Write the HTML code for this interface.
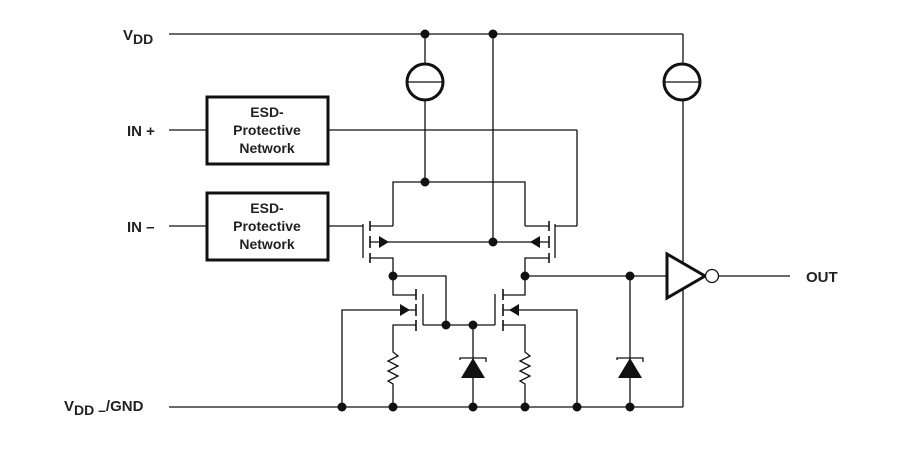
<!DOCTYPE html>
<html><head><meta charset="utf-8"><style>
html,body{margin:0;padding:0;background:#fff;}
svg{display:block;}
text{font-family:"Liberation Sans",Arial,sans-serif;font-weight:bold;fill:#222;}
</style></head><body>
<svg width="919" height="450" viewBox="0 0 919 450" xmlns="http://www.w3.org/2000/svg">
<g stroke="#111" stroke-width="1.3" fill="none">
<!-- rails -->
<line x1="169" y1="34" x2="683" y2="34"/>
<line x1="169" y1="407" x2="683" y2="407"/>
<line x1="683" y1="34" x2="683" y2="64"/>
<line x1="683" y1="100" x2="683" y2="407"/>
<!-- inputs -->
<line x1="169" y1="130" x2="206" y2="130"/>
<line x1="328" y1="130" x2="577" y2="130"/>
<line x1="577" y1="130" x2="577" y2="226"/>
<line x1="577" y1="226" x2="555" y2="226"/>
<line x1="169" y1="226" x2="206" y2="226"/>
<line x1="328" y1="226" x2="363" y2="226"/>
<!-- current source 1 -->
<line x1="425" y1="34" x2="425" y2="64"/>
<line x1="425" y1="100" x2="425" y2="182"/>
<line x1="407" y1="82" x2="443" y2="82"/>
<!-- current source 2 -->
<line x1="664" y1="82" x2="700" y2="82"/>
<!-- top diff pair -->
<polyline points="393,226 393,182 525,182 525,226"/>
<line x1="493" y1="34" x2="493" y2="242"/>
<line x1="370" y1="242" x2="549" y2="242"/>
<line x1="363" y1="224" x2="363" y2="258"/>
<line x1="555" y1="224" x2="555" y2="258"/>
<line x1="370" y1="226" x2="393" y2="226"/>
<line x1="549" y1="226" x2="525" y2="226"/>
<polyline points="370,258 393,258 393,295 416,295"/>
<polyline points="549,258 525,258 525,295 503,295"/>
<polyline points="393,276 446,276 446,325"/>
<line x1="525" y1="276" x2="667" y2="276"/>
<line x1="630" y1="276" x2="630" y2="407"/>
<!-- lower mirror -->
<line x1="423" y1="294" x2="423" y2="325"/>
<line x1="495" y1="294" x2="495" y2="325"/>
<line x1="423" y1="325" x2="495" y2="325"/>
<polyline points="342,407 342,310 416,310"/>
<polyline points="577,407 577,310 503,310"/>
<polyline points="416,325 393,325 393,350"/>
<polyline points="503,325 525,325 525,350"/>
<polyline points="393,350 393,352 398,356 388,361 398,366 388,371 398,376 388,381 393,384 393,407"/>
<polyline points="525,350 525,352 530,356 520,361 530,366 520,371 530,376 520,381 525,384 525,407"/>
<line x1="473" y1="325" x2="473" y2="407"/>
<!-- out -->
<line x1="719" y1="276" x2="790" y2="276"/>
</g>
<!-- channel bars -->
<g stroke="#111" stroke-width="1.6">
<line x1="370" y1="221" x2="370" y2="231"/><line x1="370" y1="236" x2="370" y2="248"/><line x1="370" y1="253" x2="370" y2="263"/>
<line x1="549" y1="221" x2="549" y2="231"/><line x1="549" y1="236" x2="549" y2="248"/><line x1="549" y1="253" x2="549" y2="263"/>
<line x1="416" y1="289" x2="416" y2="300"/><line x1="416" y1="304" x2="416" y2="316"/><line x1="416" y1="320" x2="416" y2="331"/>
<line x1="503" y1="289" x2="503" y2="300"/><line x1="503" y1="304" x2="503" y2="316"/><line x1="503" y1="320" x2="503" y2="331"/>
</g>
<!-- arrows -->
<g fill="#111">
<polygon points="379,236 379,248 389,242"/>
<polygon points="540,236 540,248 530,242"/>
<polygon points="400,304 400,316 410,310"/>
<polygon points="519,304 519,316 509,310"/>
<polygon points="461,378 485,378 473,358"/>
<polygon points="618,378 642,378 630,358"/>
</g>
<g stroke="#111" stroke-width="1.3" fill="none">
<polyline points="460,360 460,358 486,358 486,362"/>
<polyline points="617,360 617,358 643,358 643,362"/>
</g>
<!-- dots -->
<g fill="#111">
<circle cx="425" cy="34" r="4.5"/><circle cx="493" cy="34" r="4.5"/>
<circle cx="425" cy="182" r="4.5"/><circle cx="493" cy="242" r="4.5"/>
<circle cx="393" cy="276" r="4.5"/><circle cx="525" cy="276" r="4.5"/><circle cx="630" cy="276" r="4.5"/>
<circle cx="446" cy="325" r="4.5"/><circle cx="473" cy="325" r="4.5"/>
<circle cx="342" cy="407" r="4.5"/><circle cx="393" cy="407" r="4.5"/><circle cx="473" cy="407" r="4.5"/>
<circle cx="525" cy="407" r="4.5"/><circle cx="577" cy="407" r="4.5"/><circle cx="630" cy="407" r="4.5"/>
</g>
<!-- circles and buffer -->
<g stroke="#111" stroke-width="3" fill="none">
<circle cx="425" cy="82" r="18"/>
<circle cx="682" cy="82" r="18"/>
<polygon points="667,254 667,298 705,276" fill="#fff"/>
<rect x="207" y="97" width="121" height="67"/>
<rect x="207" y="193" width="121" height="67"/>
</g>
<circle cx="712" cy="276" r="6.5" fill="#fff" stroke="#111" stroke-width="1.3"/>
<!-- labels -->
<text x="123" y="40" font-size="15">V<tspan font-size="14" dy="4">DD</tspan></text>
<text x="127" y="136" font-size="15">IN +</text>
<text x="127" y="232" font-size="15">IN –</text>
<text x="64" y="411" font-size="15">V<tspan font-size="14" dy="4">DD –</tspan><tspan dy="-4">/GND</tspan></text>
<text x="806" y="282" font-size="15">OUT</text>
<g font-size="14" text-anchor="middle">
<text x="267" y="117">ESD-</text><text x="267" y="135">Protective</text><text x="267" y="153">Network</text>
<text x="267" y="213">ESD-</text><text x="267" y="231">Protective</text><text x="267" y="249">Network</text>
</g>
</svg>
</body></html>
